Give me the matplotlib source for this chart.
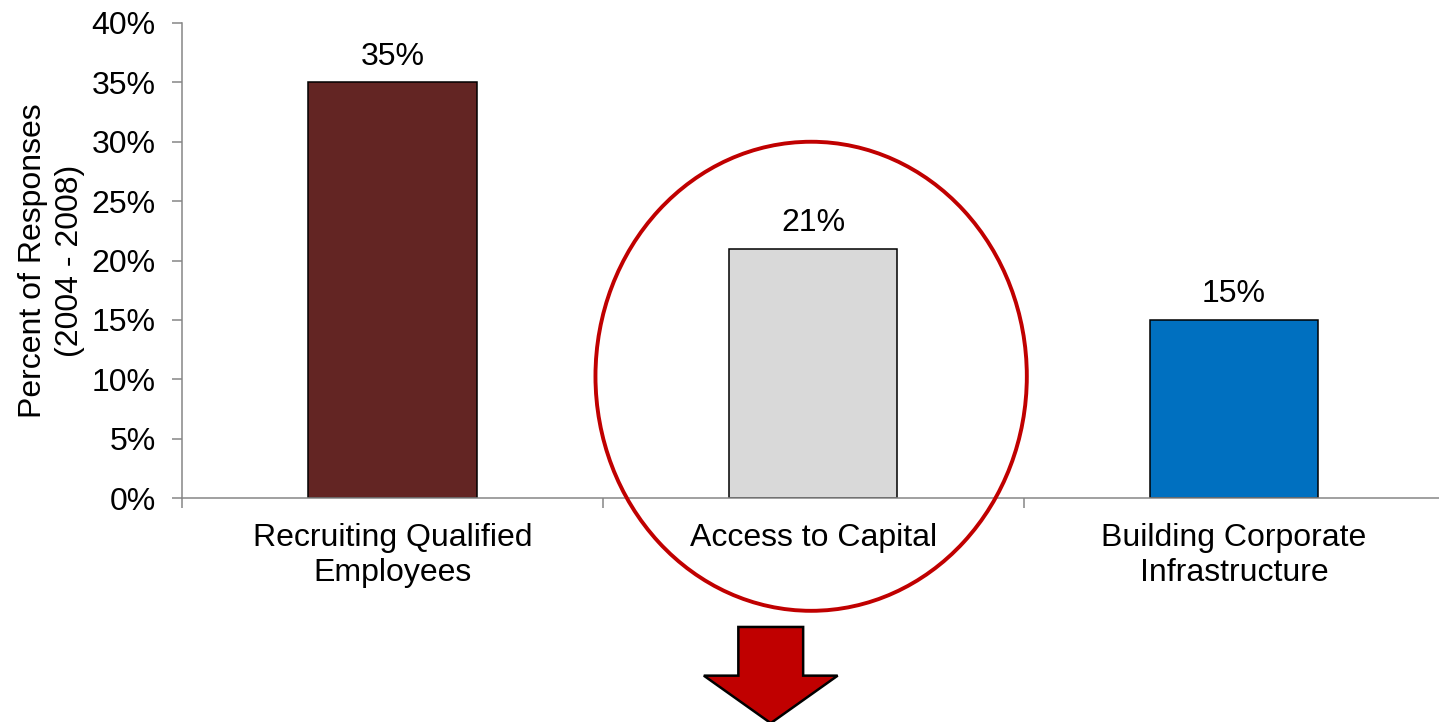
import matplotlib
matplotlib.use("Agg")
import matplotlib.pyplot as plt
from matplotlib.patches import Ellipse, FancyArrow
from matplotlib.ticker import FixedLocator, PercentFormatter

plt.rcParams["font.family"] = ["Liberation Sans", "DejaVu Sans"]

categories = ["Recruiting Qualified\nEmployees", "Access to Capital", "Building Corporate\nInfrastructure"]
shares = [35, 21, 15]
bar_colors = ["#632523", "#D9D9D9", "#0070C0"]
y_ticks = [0, 5, 10, 15, 20, 25, 30, 35, 40]

FS = 23
W, H = 1439, 722
fig = plt.figure(figsize=(W / 100, H / 100), dpi=100)
# axes box in pixels: x 182..1444.5, y 23..498 (from top)
ax = fig.add_axes([182 / W, (H - 498) / H, 1262.5 / W, 475 / H])

x = list(range(len(categories)))
ax.bar(x, shares, width=0.4, color=bar_colors, edgecolor="black", linewidth=1.1, zorder=2)

for xi, v in zip(x, shares):
    ax.annotate(f"{v}%", (xi, v), xytext=(0, 7.5), textcoords="offset points",
                ha="center", va="bottom", fontsize=FS)

ax.set_xlim(-0.5, len(categories) - 0.5)
ax.set_ylim(0, 40)
ax.set_yticks(y_ticks)
ax.yaxis.set_major_formatter(PercentFormatter(decimals=0))

ax.set_xticks(x)
ax.set_xticklabels(categories, fontsize=FS, linespacing=1.2)
ax.xaxis.set_minor_locator(FixedLocator([i - 0.5 for i in range(len(categories) + 1)]))

spine_col = "#868686"
for side in ["top", "right"]:
    ax.spines[side].set_visible(False)
for side in ["left", "bottom"]:
    ax.spines[side].set_color(spine_col)
    ax.spines[side].set_linewidth(1.1)

ax.tick_params(axis="y", direction="out", length=7, width=1.1, color=spine_col,
               labelsize=FS, pad=12)
ax.tick_params(axis="x", which="major", length=0, pad=18)
ax.tick_params(axis="x", which="minor", direction="out", length=7, width=1.1, color=spine_col)

ax.set_ylabel("Percent of Responses\n(2004 - 2008)", fontsize=FS, labelpad=5, linespacing=1.3)

# highlight around the middle bar
ring = Ellipse((0.995, 10.25), width=1.025, height=39.5, fill=False,
               edgecolor="#C00000", linewidth=2.8, clip_on=False, zorder=3)
ax.add_patch(ring)

# block arrow pointing down under the highlighted category
arrow = FancyArrow(0.899, -10.86, 0, -8.1, width=0.154, head_width=0.318,
                   head_length=4.0, length_includes_head=True,
                   facecolor="#C00000", edgecolor="black", linewidth=1.8,
                   clip_on=False, zorder=3)
ax.add_patch(arrow)

fig.savefig("out.png", dpi=100)
